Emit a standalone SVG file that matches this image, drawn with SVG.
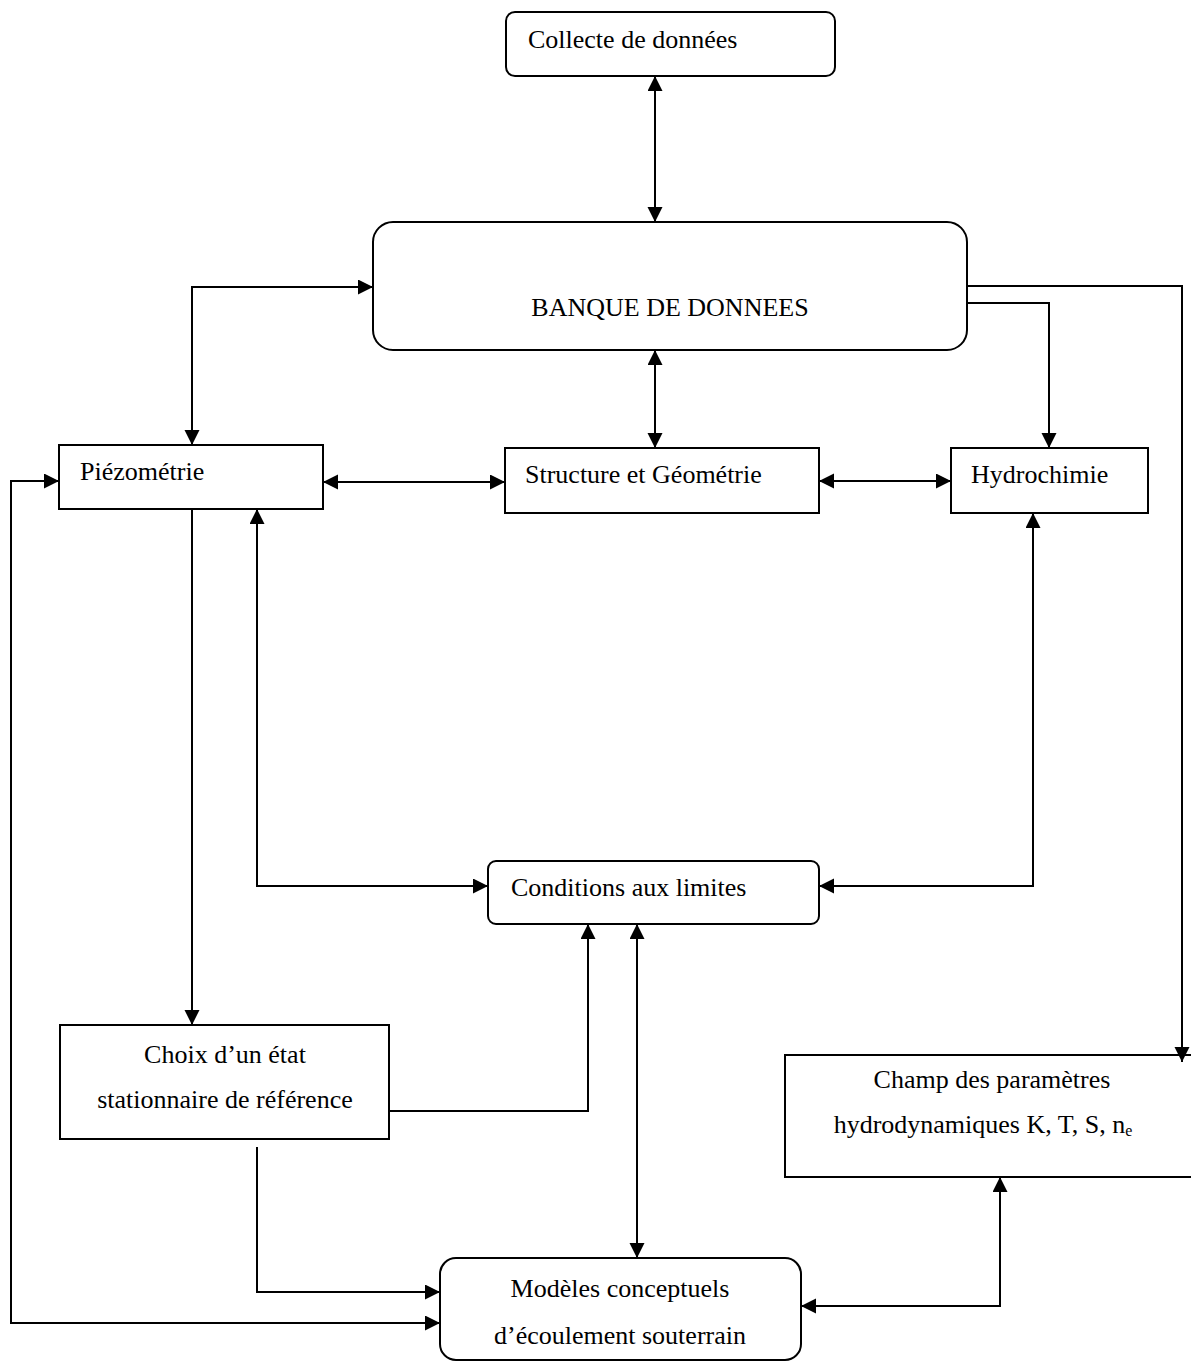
<svg xmlns="http://www.w3.org/2000/svg" width="1191" height="1362" viewBox="0 0 1191 1362">
<style>
.box{fill:#fff;stroke:#000;stroke-width:2}
.t{font-family:"Liberation Serif","Times New Roman",serif;font-size:26px;fill:#000}
.m{text-anchor:middle}
.c{fill:none;stroke:#000;stroke-width:2}
.both{marker-start:url(#ah);marker-end:url(#ah)}
.end{marker-end:url(#ah)}
</style>
<defs>
<marker id="ah" markerUnits="userSpaceOnUse" markerWidth="16" markerHeight="16" refX="15" refY="7.5" orient="auto-start-reverse" viewBox="0 0 16 16">
<path d="M0,0 L15,7.5 L0,15 z" fill="#000"/>
</marker>
</defs>
<rect width="1191" height="1362" fill="#fff"/>
<g id="collecte"><rect class="box" x="506" y="12" width="329" height="64" rx="9"/><text class="t" x="528" y="48">Collecte de données</text></g>
<g id="banque"><rect class="box" x="373" y="222" width="594" height="128" rx="20"/><text class="t m" x="670" y="316">BANQUE DE DONNEES</text></g>
<g id="piezometrie"><rect class="box" x="59" y="445" width="264" height="64"/><text class="t" x="80" y="480">Piézométrie</text></g>
<g id="structure"><rect class="box" x="505" y="448" width="314" height="65"/><text class="t" x="525" y="483">Structure et Géométrie</text></g>
<g id="hydrochimie"><rect class="box" x="951" y="448" width="197" height="65"/><text class="t" x="971" y="483">Hydrochimie</text></g>
<g id="conditions"><rect class="box" x="488" y="861" width="331" height="63" rx="8"/><text class="t" x="511" y="896">Conditions aux limites</text></g>
<g id="choix"><rect class="box" x="60" y="1025" width="329" height="114"/><text class="t m" x="225" y="1063">Choix d’un état</text><text class="t m" x="225" y="1108">stationnaire de référence</text></g>
<g id="champ"><rect class="box" x="785" y="1055" width="412" height="122"/><text class="t m" x="992" y="1088">Champ des paramètres</text><text class="t m" x="983" y="1133">hydrodynamiques K, T, S, n<tspan font-size="16" dy="3">e</tspan></text></g>
<g id="modeles"><rect class="box" x="440" y="1258" width="361" height="102" rx="16"/><text class="t m" x="620" y="1297">Modèles conceptuels</text><text class="t m" x="620" y="1344">d’écoulement souterrain</text></g>
<g id="connectors">
<path class="c both" d="M655,76 V222"/>
<path class="c both" d="M373,287 H192 V445"/>
<path class="c both" d="M655,350 V448"/>
<path class="c end" d="M967,303 H1049 V448"/>
<path class="c end" d="M967,286 H1182 V1062"/>
<path class="c both" d="M323,482 H505"/>
<path class="c both" d="M819,481 H951"/>
<path class="c both" d="M257,509 V886 H488"/>
<path class="c both" d="M1033,513 V886 H819"/>
<path class="c end" d="M192,509 V1025"/>
<path class="c end" d="M389,1111 H588 V924"/>
<path class="c both" d="M637,924 V1258"/>
<path class="c end" d="M257,1147 V1292 H440"/>
<path class="c both" d="M59,481 H11 V1323 H440"/>
<path class="c both" d="M1000,1177 V1306 H801"/>
</g>
</svg>
